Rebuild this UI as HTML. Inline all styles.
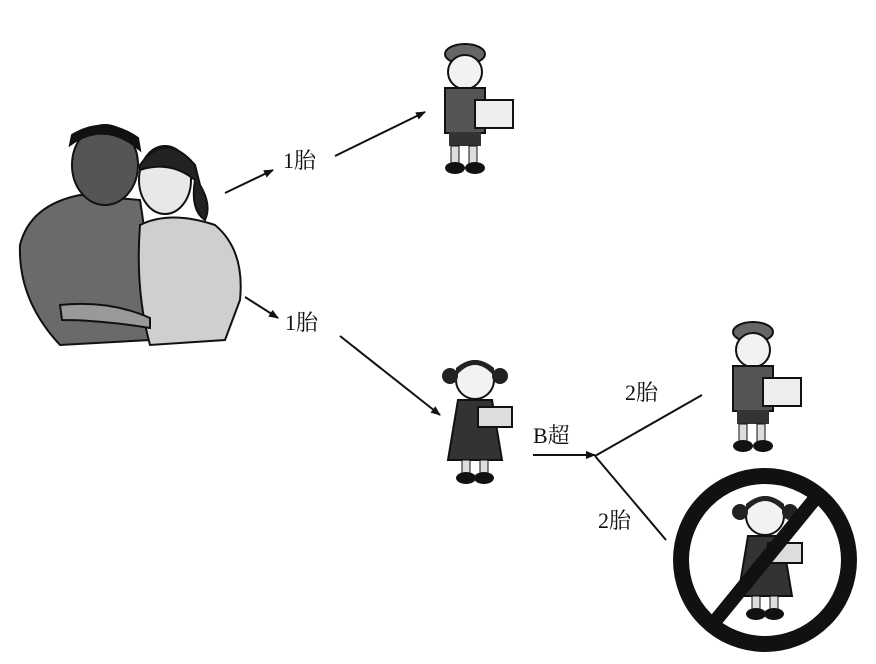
<!DOCTYPE html>
<html><head><meta charset="utf-8"><style>
html,body{margin:0;padding:0;background:#fff;}
svg{display:block}
text{font-family:"Liberation Serif","Noto Serif CJK SC",serif;font-size:22px;fill:#111}
</style></head><body>
<svg width="876" height="664" viewBox="0 0 876 664" xmlns="http://www.w3.org/2000/svg">
<defs>
<marker id="ah" markerWidth="10" markerHeight="8" refX="9" refY="4" orient="auto" markerUnits="userSpaceOnUse">
<path d="M0,0 L10,4 L0,8 Z" fill="#111"/></marker>
<g id="boy">
<ellipse cx="28" cy="12" rx="20" ry="10" fill="#666" stroke="#111" stroke-width="2"/>
<circle cx="28" cy="30" r="17" fill="#f2f2f2" stroke="#111" stroke-width="2"/>
<rect x="8" y="46" width="40" height="45" fill="#555" stroke="#111" stroke-width="2"/>
<rect x="38" y="58" width="38" height="28" fill="#eee" stroke="#111" stroke-width="2"/>
<rect x="12" y="90" width="32" height="14" fill="#333"/>
<rect x="14" y="104" width="8" height="18" fill="#ddd" stroke="#111"/>
<rect x="32" y="104" width="8" height="18" fill="#ddd" stroke="#111"/>
<ellipse cx="18" cy="126" rx="10" ry="6" fill="#111"/>
<ellipse cx="38" cy="126" rx="10" ry="6" fill="#111"/>
</g>
<g id="girl">
<circle cx="35" cy="28" r="19" fill="#f2f2f2" stroke="#111" stroke-width="2"/>
<path d="M16,24 Q35,2 54,24 L54,16 Q35,0 16,16Z" fill="#222"/>
<circle cx="10" cy="24" r="8" fill="#222"/><circle cx="60" cy="24" r="8" fill="#222"/>
<path d="M18,48 L52,48 L62,108 L8,108 Z" fill="#333" stroke="#111" stroke-width="2"/>
<rect x="38" y="55" width="34" height="20" fill="#ddd" stroke="#111" stroke-width="2"/>
<rect x="22" y="108" width="8" height="14" fill="#ddd" stroke="#111"/>
<rect x="40" y="108" width="8" height="14" fill="#ddd" stroke="#111"/>
<ellipse cx="26" cy="126" rx="10" ry="6" fill="#111"/>
<ellipse cx="44" cy="126" rx="10" ry="6" fill="#111"/>
</g>
</defs>

<!-- couple -->
<g stroke="#111" stroke-width="2">
<path d="M20,245 Q30,205 80,195 L140,200 Q150,260 150,340 L60,345 Q18,300 20,245Z" fill="#6a6a6a"/>
<ellipse cx="105" cy="165" rx="33" ry="40" fill="#555"/>
<path d="M70,145 Q105,120 140,150 L138,138 Q105,115 72,135Z" fill="#111"/>
<path d="M140,225 Q170,210 215,225 Q245,250 240,300 L225,340 L150,345 Q135,290 140,225Z" fill="#cfcfcf"/>
<ellipse cx="165" cy="180" rx="26" ry="34" fill="#e8e8e8"/>
<path d="M140,165 Q165,130 195,165 L200,185 Q212,205 205,220 Q190,210 195,180 Q170,160 140,170Z" fill="#222"/>
<path d="M60,305 Q110,300 150,318 L150,328 Q100,320 62,320Z" fill="#999"/>
</g>

<!-- figures -->
<use href="#boy" x="437" y="42"/>
<use href="#girl" x="440" y="352"/>
<use href="#boy" x="725" y="320"/>

<!-- prohibited -->
<circle cx="765" cy="560" r="84" fill="#fff" stroke="#111" stroke-width="16"/>
<use href="#girl" x="730" y="488"/>
<line x1="712" y1="625" x2="818" y2="495" stroke="#111" stroke-width="14"/>

<!-- connectors -->
<g stroke="#111" stroke-width="2" fill="none">
<line x1="225" y1="193" x2="273" y2="170" marker-end="url(#ah)"/>
<line x1="335" y1="156" x2="425" y2="112" marker-end="url(#ah)"/>
<line x1="245" y1="297" x2="278" y2="318" marker-end="url(#ah)"/>
<line x1="340" y1="336" x2="440" y2="415" marker-end="url(#ah)"/>
<line x1="533" y1="455" x2="595" y2="455" marker-end="url(#ah)"/>
<line x1="595" y1="456" x2="702" y2="395"/>
<line x1="595" y1="456" x2="666" y2="540"/>
</g>

<text x="283" y="168">1胎</text>
<text x="285" y="330">1胎</text>
<text x="533" y="443">B超</text>
<text x="625" y="400">2胎</text>
<text x="598" y="528">2胎</text>
</svg>
</body></html>
